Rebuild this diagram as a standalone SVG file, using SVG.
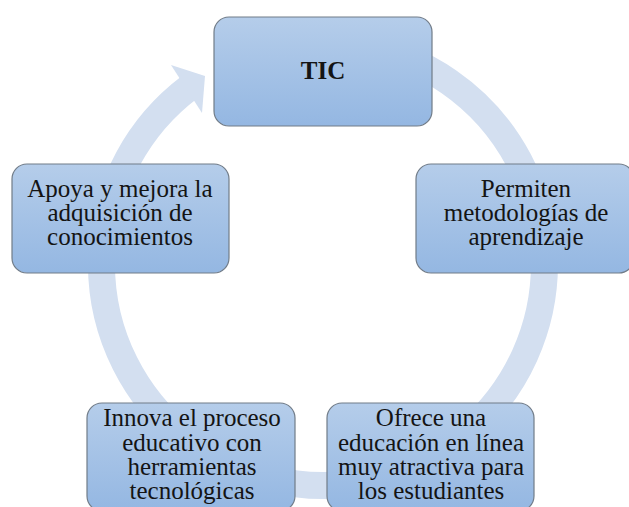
<svg xmlns="http://www.w3.org/2000/svg" width="629" height="507" viewBox="0 0 629 507">
<defs>
<linearGradient id="boxfill" x1="0" y1="0" x2="0" y2="1">
<stop offset="0" stop-color="#b5cdea"/>
<stop offset="1" stop-color="#94b7e2"/>
</linearGradient>
<style>
.box{fill:url(#boxfill);stroke:#717c88;stroke-width:1.2}
.t{font-family:"Liberation Serif","Times New Roman",serif;font-size:25px;fill:#141414;text-anchor:middle}
.b{font-weight:bold}
.ring{fill:none;stroke:#d3dff0;stroke-width:27}
.head{fill:#d3dff0}
</style>
</defs>
<rect width="629" height="507" fill="#ffffff"/>
<g id="connectors">
<path class="ring" d="M 361.5 45.9 A 221.5 221.5 0 1 1 189.7 87.1"/>
<polygon class="head" points="171,65 205,76 202,113"/>
</g>
<g id="node-tic">
<rect class="box" x="214" y="17" width="218" height="109" rx="15"/>
<text class="t b" x="323" y="79">TIC</text>
</g>
<g id="node-permiten">
<rect class="box" x="416" y="164" width="218" height="109" rx="15"/>
<text class="t" x="526" y="197">Permiten</text>
<text class="t" x="526" y="221">metodologías de</text>
<text class="t" x="526" y="245">aprendizaje</text>
</g>
<g id="node-ofrece">
<rect class="box" x="327" y="403" width="207" height="108" rx="15"/>
<text class="t" x="431" y="426">Ofrece una</text>
<text class="t" x="431" y="450.5">educación en línea</text>
<text class="t" x="431" y="475">muy atractiva para</text>
<text class="t" x="431" y="498.5">los estudiantes</text>
</g>
<g id="node-innova">
<rect class="box" x="87" y="403" width="208" height="108" rx="15"/>
<text class="t" x="192" y="426">Innova el proceso</text>
<text class="t" x="192" y="450.5">educativo con</text>
<text class="t" x="192" y="475">herramientas</text>
<text class="t" x="192" y="499">tecnológicas</text>
</g>
<g id="node-apoya">
<rect class="box" x="12" y="164" width="217" height="109" rx="15"/>
<text class="t" x="120" y="197">Apoya y mejora la</text>
<text class="t" x="120" y="221">adquisición de</text>
<text class="t" x="120" y="245">conocimientos</text>
</g>
</svg>
